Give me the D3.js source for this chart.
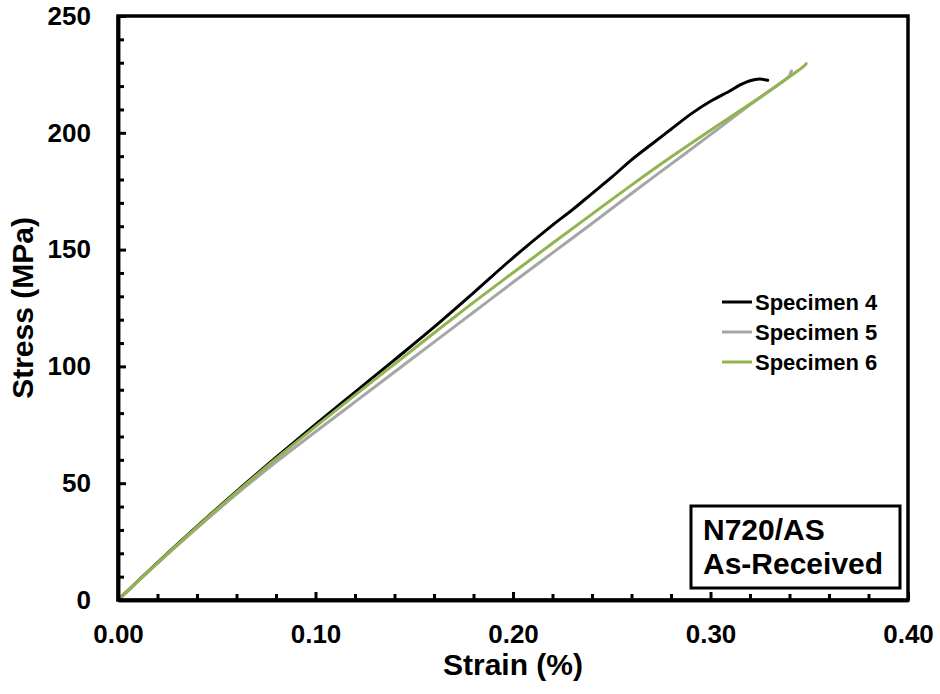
<!DOCTYPE html>
<html>
<head>
<meta charset="utf-8">
<script src="https://cdn.jsdelivr.net/npm/d3@7"></script>
<style>
  html, body { margin: 0; padding: 0; background: #fff; }
  svg { display: block; }
  text { font-family: "Liberation Sans", Arial, sans-serif; font-weight: bold; fill: #000; }
</style>
</head>
<body>
<svg id="chart" width="940" height="694"></svg>
<script>
// ---- Data ----
const seriesNames = ["Specimen 4", "Specimen 5", "Specimen 6"];
const seriesColors = ["#000000", "#A6A6A6", "#92B450"];

const strain4 = [0, 0.02, 0.04, 0.06, 0.08, 0.10, 0.12, 0.14, 0.16, 0.18, 0.20, 0.22, 0.23, 0.24, 0.25, 0.26, 0.27, 0.28, 0.29, 0.30, 0.31, 0.315, 0.32, 0.325, 0.329];
const stress4 = [0, 16, 31.5, 46.5, 61, 75.2, 89, 102.8, 116.8, 131.5, 146.5, 160.5, 167, 174, 181, 188.4, 195, 201.5, 208, 213.5, 218, 220.5, 222.3, 223, 222.5];

const strain5 = [0, 0.02, 0.04, 0.06, 0.08, 0.10, 0.12, 0.14, 0.16, 0.18, 0.20, 0.22, 0.24, 0.26, 0.28, 0.30, 0.32, 0.335, 0.340, 0.341, 0.3405];
const stress5 = [0, 15.7, 30.8, 45.3, 59, 72, 84.8, 97.6, 110.4, 123.2, 136, 148.6, 161.2, 174, 186.6, 199.2, 212, 221, 224.5, 226.5, 225.5];

const strain6 = [0, 0.02, 0.04, 0.06, 0.08, 0.10, 0.12, 0.14, 0.16, 0.18, 0.20, 0.22, 0.24, 0.26, 0.28, 0.30, 0.32, 0.34, 0.347, 0.3485, 0.3478];
const stress6 = [0, 15.9, 31.3, 46.2, 60.5, 74.2, 87.7, 101, 114.3, 127.4, 140.1, 152.7, 165.2, 177.6, 189.6, 201.1, 212.3, 224, 228.3, 229.6, 229];

const xTicks = [0, 0.1, 0.2, 0.3, 0.4];
const xMinorTicks = [0.02, 0.04, 0.06, 0.08, 0.12, 0.14, 0.16, 0.18, 0.22, 0.24, 0.26, 0.28, 0.32, 0.34, 0.36, 0.38];
const yTicks = [0, 50, 100, 150, 200, 250];
const yMinorTicks = [10, 20, 30, 40, 60, 70, 80, 90, 110, 120, 130, 140, 160, 170, 180, 190, 210, 220, 230, 240];

const xTitle = "Strain (%)";
const yTitle = "Stress (MPa)";
const boxLines = ["N720/AS", "As-Received"];

// ---- Layout ----
const L = 118, R = 908, T = 16, B = 600;
const svg = d3.select("#chart");
const x = d3.scaleLinear().domain([0, 0.4]).range([L, R]);
const y = d3.scaleLinear().domain([0, 250]).range([B, T]);

// Series
const series = [
  strain4.map((s, i) => [s, stress4[i]]),
  strain5.map((s, i) => [s, stress5[i]]),
  strain6.map((s, i) => [s, stress6[i]])
];
const lineGen = d3.line().x(d => x(d[0])).y(d => y(d[1])).curve(d3.curveCatmullRom.alpha(0.5));

svg.append("g").selectAll("path").data(series).join("path")
  .attr("d", d => lineGen(d))
  .attr("fill", "none")
  .attr("stroke", (d, i) => seriesColors[i])
  .attr("stroke-width", 3)
  .attr("stroke-linejoin", "round")
  .attr("stroke-linecap", "round");

// Frame (top and right)
svg.append("rect").attr("x", L).attr("y", T).attr("width", R - L).attr("height", B - T)
  .attr("fill", "none").attr("stroke", "#000").attr("stroke-width", 3.5);

// Axes
const fmtX = d3.format(".2f");
const gx = svg.append("g").attr("transform", `translate(0,${B})`)
  .call(d3.axisBottom(x).tickValues(xTicks).tickFormat(fmtX).tickSizeInner(-8).tickSizeOuter(0).tickPadding(25));
const gxm = svg.append("g").attr("transform", `translate(0,${B})`)
  .call(d3.axisBottom(x).tickValues(xMinorTicks).tickFormat("").tickSizeInner(-6).tickSizeOuter(0));
const gy = svg.append("g").attr("transform", `translate(${L},0)`)
  .call(d3.axisLeft(y).tickValues(yTicks).tickFormat(d3.format("d")).tickSizeInner(-8).tickSizeOuter(0).tickPadding(27));
const gym = svg.append("g").attr("transform", `translate(${L},0)`)
  .call(d3.axisLeft(y).tickValues(yMinorTicks).tickFormat("").tickSizeInner(-6).tickSizeOuter(0));

[gx, gxm, gy, gym].forEach(g => {
  g.select(".domain").attr("stroke", "#000").attr("stroke-width", 3.5);
  g.selectAll(".tick line").attr("stroke", "#000").attr("stroke-width", 3);
  g.selectAll("text").attr("font-family", "'Liberation Sans', Arial, sans-serif")
    .attr("font-weight", "bold").attr("font-size", 26).attr("fill", "#000");
});

// Axis titles
svg.append("text").attr("x", (L + R) / 2).attr("y", 675).attr("text-anchor", "middle")
  .attr("font-size", 30).text(xTitle);
svg.append("text").attr("transform", `translate(33,${(T + B) / 2}) rotate(-90)`)
  .attr("text-anchor", "middle").attr("font-size", 30).text(yTitle);

// Legend
const legend = svg.append("g");
seriesNames.forEach((name, i) => {
  const ly = 302 + i * 30;
  legend.append("line").attr("x1", 722).attr("x2", 752).attr("y1", ly).attr("y2", ly)
    .attr("stroke", seriesColors[i]).attr("stroke-width", 3);
  legend.append("text").attr("x", 755).attr("y", ly).attr("dy", "0.35em")
    .attr("font-size", 22).text(name);
});

// Annotation box
svg.append("rect").attr("x", 691).attr("y", 506).attr("width", 209).attr("height", 82)
  .attr("fill", "#fff").attr("stroke", "#000").attr("stroke-width", 3);
boxLines.forEach((t, i) => {
  svg.append("text").attr("x", 703).attr("y", 540 + i * 34).attr("font-size", 30).text(t);
});
</script>
</body>
</html>
